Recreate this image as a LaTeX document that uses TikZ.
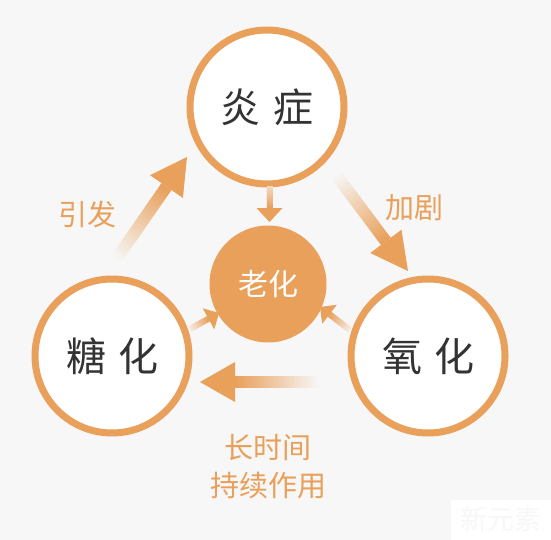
\documentclass[tikz,border=0pt]{standalone}
\usepackage{fontspec}
\usetikzlibrary{calc}
\newfontfamily\cjk{Noto Sans CJK SC}
\definecolor{bg}{HTML}{F7F7F7}
\definecolor{org}{HTML}{E8A05B}
\definecolor{ink}{HTML}{333333}
\newcommand\gradarrow[6]{%
  \coordinate (ga-m) at ($(#2)!#4!(#1)$);
  \foreach \i in {1,...,40}{%
    \pgfmathsetmacro\ga{(\i-1)/40}%
    \pgfmathsetmacro\gb{min(1,\i/40+0.012)}%
    \pgfmathtruncatemacro\gp{#6+(100-#6)*\i/40}%
    \draw[line width=#3, draw=org!\gp!bg] ($(#1)!\ga!(ga-m)$) -- ($(#1)!\gb!(ga-m)$);
  }%
  \fill[org] (#2) -- ($(ga-m)!#5/2!90:(#2)$) -- ($(ga-m)!#5/2!-90:(#2)$) -- cycle;
}
\tikzset{
  bigc/.style={circle, draw=org, line width=7pt, fill=white, minimum size=154pt, inner sep=0pt, text=ink, font=\cjk\fontsize{40}{44}\selectfont},
  agec/.style={circle, fill=org, minimum size=117pt, inner sep=0pt, text=white, font=\cjk\fontsize{30}{34}\selectfont},
  lbl/.style={text=org, font=\cjk\fontsize{29}{38}\selectfont, align=center, inner sep=0pt}
}
\begin{document}
\begin{tikzpicture}[x=1pt,y=-1pt]
\fill[bg] (0,0) rectangle (551,540);
\useasboundingbox (0,0) rectangle (551,540);
% watermark
\fill[white] (451,500) rectangle (551,540);
\node[text=black!3, font=\cjk\fontsize{27}{30}\selectfont, inner sep=0pt] (wm) at (501,519) {新元素};
% circles
\node[bigc] (yan) at (267,107) {炎\hspace{13pt}症};
\node[bigc] (tang) at (112,356) {糖\hspace{12pt}化};
\node[bigc] (yang) at (428,356) {氧\hspace{12pt}化};
\node[agec] (lao) at (268,284) {\raisebox{2pt}{老化}};
% arrow end points
\coordinate (a1s) at (117,258); \coordinate (a1t) at (187,157);
\coordinate (a2s) at (337,176); \coordinate (a2t) at (408,271);
\coordinate (a3s) at (318,382); \coordinate (a3t) at (200,382);
\coordinate (a4s) at (269.5,186); \coordinate (a4t) at (269.5,222);
\coordinate (a5s) at (190,329); \coordinate (a5t) at (219,313);
\coordinate (a6s) at (350,330); \coordinate (a6t) at (320,307);
\gradarrow{a1s}{a1t}{12pt}{36pt}{40pt}{0}
\gradarrow{a2s}{a2t}{12pt}{37pt}{39pt}{0}
\gradarrow{a3s}{a3t}{12pt}{35pt}{40pt}{0}
\gradarrow{a4s}{a4t}{6pt}{14pt}{26pt}{30}
\gradarrow{a5s}{a5t}{6pt}{12pt}{24pt}{10}
\gradarrow{a6s}{a6t}{6pt}{12pt}{24pt}{10}
% labels
\node[lbl] (yinfa) at (87,214) {引发};
\node[lbl] (jiaju) at (414,208) {加剧};
\node[lbl] (chixu) at (268,467) {长时间\\持续作用};
\end{tikzpicture}
\end{document}
